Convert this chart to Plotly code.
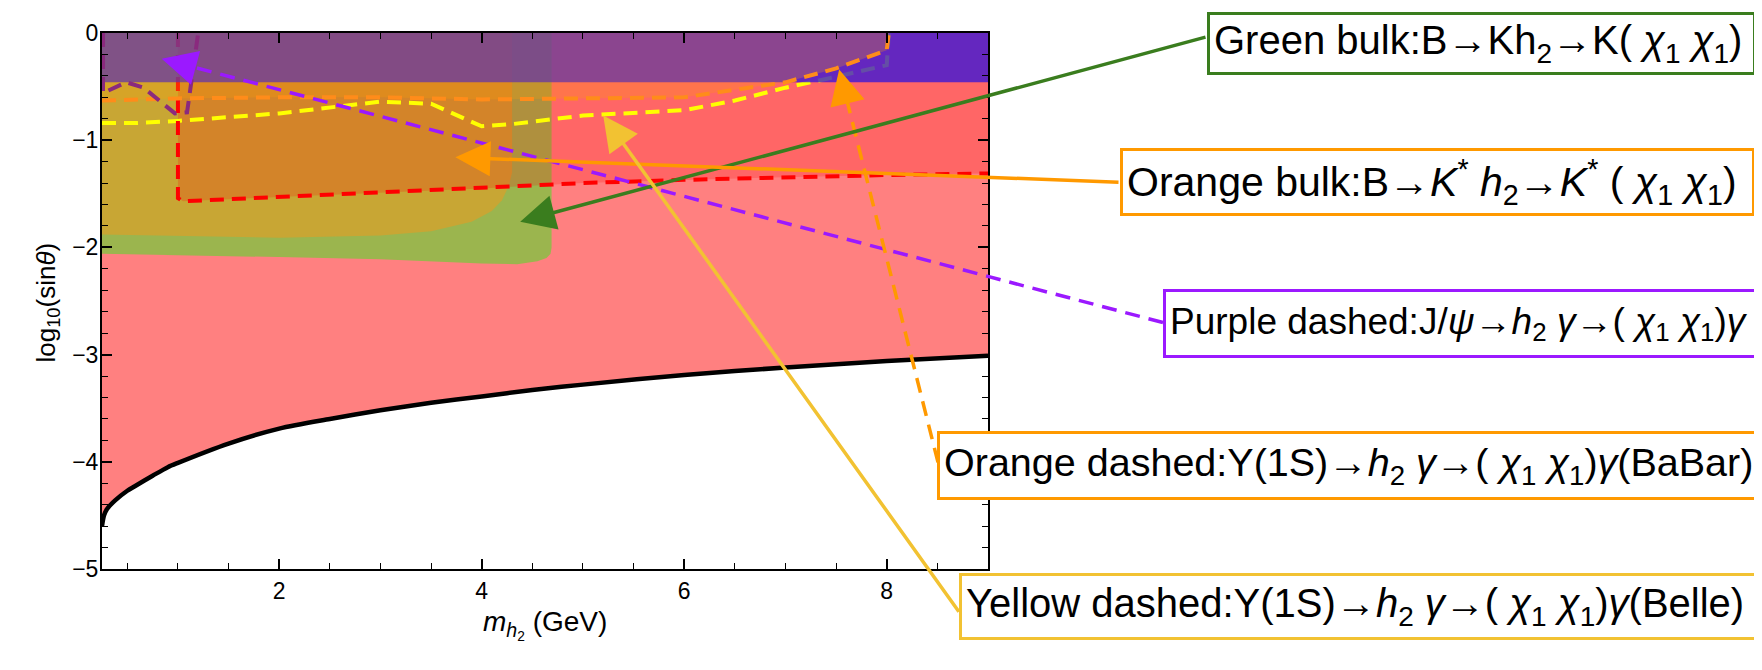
import math
import plotly.graph_objects as go

# ---------------- data ----------------
X_RANGE = [0.25, 9.0]
Y_RANGE = [-5.0, 0.0]

# lower theoretical bound (black solid curve)
bound_x = [0.25, 0.27, 0.3, 0.38, 0.5, 0.57, 0.75, 0.9, 1.0, 1.5, 2.0, 2.5, 3.0, 3.5, 4.0, 4.5, 5.0, 6.0, 7.0, 8.0, 9.0]
bound_y = [-4.6, -4.5, -4.44, -4.36, -4.27, -4.23, -4.13, -4.05, -4.01, -3.83, -3.69, -3.6, -3.52, -3.45, -3.39, -3.33, -3.28, -3.19, -3.12, -3.06, -3.01]

# green bulk region (B -> K h2)
green_x = [0.25, 1.0, 2.0, 3.0, 3.5, 4.0, 4.35, 4.55, 4.64, 4.68, 4.69, 4.69, 0.25]
green_y = [-2.06, -2.07, -2.09, -2.11, -2.13, -2.15, -2.157, -2.13, -2.1, -2.06, -2.0, 0.0, 0.0]

# mustard region
mustard_x = [0.25, 1.0, 2.0, 3.0, 3.5, 3.9, 4.1, 4.2, 4.27, 4.3, 4.3, 0.25]
mustard_y = [-1.88, -1.89, -1.91, -1.89, -1.85, -1.76, -1.66, -1.56, -1.42, -1.3, 0.0, 0.0]

# red dashed (B -> K* h2)
red_x = [1.0, 1.0, 1.05, 2.0, 3.0, 4.0, 5.0, 6.0, 7.0, 8.0, 9.0]
red_y = [0.0, -1.54, -1.57, -1.53, -1.49, -1.45, -1.40, -1.37, -1.345, -1.325, -1.31]

# orange dashed (BaBar)
babar_x = [0.25, 1.0, 2.0, 3.0, 4.0, 5.0, 6.0, 6.5, 7.0, 7.5, 8.0, 8.02]
babar_y = [-0.63, -0.61, -0.6, -0.6, -0.62, -0.61, -0.6, -0.53, -0.46, -0.33, -0.16, 0.0]

# yellow dashed (Belle)
belle_x = [0.25, 0.6, 1.0, 2.0, 3.0, 3.5, 4.0, 4.3, 5.0, 6.0, 6.5, 7.0, 7.3, 8.0, 8.02]
belle_y = [-0.84, -0.84, -0.82, -0.75, -0.64, -0.66, -0.87, -0.85, -0.77, -0.72, -0.63, -0.51, -0.45, -0.3, 0.0]

# purple dashed (J/psi)
jpsi_x = [0.26, 0.26, 0.49, 0.66, 0.97, 1.09, 1.2]
jpsi_y = [0.0, -0.56, -0.46, -0.51, -0.75, -0.74, 0.0]

# top band
band_x = [0.25, 9.0, 9.0, 0.25]
band_y = [-0.46, -0.46, 0.0, 0.0]

X_TICKS = [2, 4, 6, 8]
Y_TICKS = [0, -1, -2, -3, -4, -5]

# ---------------- layout geometry (page pixels) ----------------
OFF = 8                      # default body margin of the html page
W, H = 1762 - OFF, 670 - OFF
PL, PT, PW, PH = 102 - OFF, 21 - OFF, 886, 548


def d2px(x, y):
    X = PL + OFF + (x - X_RANGE[0]) / (X_RANGE[1] - X_RANGE[0]) * PW
    Y = PT + OFF + (Y_RANGE[1] - y) / (Y_RANGE[1] - Y_RANGE[0]) * PH
    return X, Y


def px2paper(X, Y):
    X -= OFF
    Y -= OFF
    return (X - PL) / PW, (PT + PH - Y) / PH


fig = go.Figure()


def region(xs, ys, color):
    fig.add_trace(go.Scatter(x=xs, y=ys, fill="toself", fillcolor=color, mode="lines",
                             line=dict(width=0), hoverinfo="skip", showlegend=False))


def dline(xs, ys, color, width=4, dash="14px,8px"):
    fig.add_trace(go.Scatter(x=xs, y=ys, mode="lines", line=dict(color=color, width=width, dash=dash),
                             hoverinfo="skip", showlegend=False))


region(bound_x + [X_RANGE[1], X_RANGE[0]], bound_y + [0.0, 0.0], "#ff8080")
region(green_x, green_y, "#9bb54e")
region(mustard_x, mustard_y, "#c8a634")
region(red_x[1:] + [9.0, 1.0], red_y[1:] + [0.0, 0.0], "rgba(255,0,0,0.2)")
dline(belle_x, belle_y, "#ffff00")
dline(red_x, red_y, "#ff0000")
region(band_x, band_y, "rgba(48,19,222,0.75)")
region(babar_x + [0.25], babar_y + [0.0], "rgba(255,160,0,0.25)")
dline(babar_x, babar_y, "#ff8c1a")
dline(jpsi_x, jpsi_y, "#8a2a7e")
fig.add_trace(go.Scatter(x=bound_x, y=bound_y, mode="lines",
                         line=dict(color="black", width=4.5, shape="spline", smoothing=0.8),
                         hoverinfo="skip", showlegend=False))

FONT = "Liberation Sans"
annotations = []
shapes = []

# ---------------- labelled boxes ----------------
CHI = "<i>χ</i><sub>1</sub>"
boxes = [
    dict(text="Green bulk:B→Kh<sub>2</sub>→K( " + CHI + " " + CHI + ")", color="#3a7d1e",
         box=(1207, 0, 1756, 63), size=40),
    dict(text="Orange bulk:B→<i>K</i><sup>*</sup> <i>h</i><sub>2</sub>→<i>K</i><sup>*</sup> ( " + CHI + " " + CHI + ")",
         color="#ff9900", box=(1120, 139, 1755, 207), size=41),
    dict(text="Purple dashed:J/<i>ψ</i>→<i>h</i><sub>2</sub> <i>γ</i>→( " + CHI + " " + CHI + ")<i>γ</i>",
         color="#9b19ff", box=(1163, 283, 1800, 352), size=37),
    dict(text="Orange dashed:Υ(1S)→<i>h</i><sub>2</sub> <i>γ</i>→( " + CHI + " " + CHI + ")<i>γ</i>(BaBar)",
         color="#ff9900", box=(937, 428, 1800, 497), size=39.5),
    dict(text="Yellow dashed:Υ(1S)→<i>h</i><sub>2</sub> <i>γ</i>→( " + CHI + " " + CHI + ")<i>γ</i>(Belle)",
         color="#f2c232", box=(959, 573, 1760, 640), size=40),
]
BW = 3
PAD = 4
for b in boxes:
    l, t, r, btm = b["box"]
    x, y = px2paper(l, t)
    annotations.append(dict(
        text=b["text"], xref="paper", yref="paper", x=x, y=y, xanchor="left", yanchor="top",
        showarrow=False, align="left", valign="middle",
        width=r - l - 2 * PAD - 2 * BW, height=btm - t - 2 * PAD - 2 * BW,
        borderpad=PAD, borderwidth=BW, bordercolor=b["color"], bgcolor="white",
        font=dict(family=FONT, size=b["size"], color="black")))

# ---------------- arrows ----------------
arrows = [
    ((1207, 29), (4.38, -1.76), "#3a7d1e", False),
    ((1120, 173), (3.74, -1.16), "#ff9900", False),
    ((1163, 317), (0.84, -0.24), "#9b19ff", True),
    ((938, 460), (7.53, -0.34), "#ff9900", True),
    ((960, 603), (5.2, -0.77), "#f2c232", False),
]
for (tx, ty), (hx, hy), col, dashed in arrows:
    HX, HY = d2px(hx, hy)
    if not dashed:
        annotations.append(dict(x=hx, y=hy, xref="x", yref="y", ax=tx - HX, ay=ty - HY,
                                axref="pixel", ayref="pixel", text="", showarrow=True,
                                arrowhead=2, arrowsize=2.0, arrowwidth=3.5, arrowcolor=col, standoff=0))
    else:
        L = math.hypot(tx - HX, ty - HY)
        ux, uy = (tx - HX) / L, (ty - HY) / L
        sx, sy = HX + ux * 18, HY + uy * 18
        p0 = px2paper(tx, ty)
        p1 = px2paper(sx, sy)
        shapes.append(dict(type="line", xref="paper", yref="paper", x0=p0[0], y0=p0[1], x1=p1[0], y1=p1[1],
                           line=dict(color=col, width=3.5, dash="15px,9px"), layer="above"))
        annotations.append(dict(x=hx, y=hy, xref="x", yref="y", ax=ux * 28, ay=uy * 28,
                                axref="pixel", ayref="pixel", text="", showarrow=True,
                                arrowhead=2, arrowsize=2.0, arrowwidth=3.5, arrowcolor=col, standoff=0))

# axis titles
tx_, ty_ = px2paper(545, 648)
annotations.append(dict(text="<i>m</i><sub><i>h</i><sub>2</sub></sub> (GeV)", xref="paper", yref="paper",
                        x=tx_, y=ty_, showarrow=False, font=dict(family=FONT, size=28, color="black")))
tx_, ty_ = px2paper(29, 297)
annotations.append(dict(text="log<sub>10</sub>(sin<i>θ</i>)", xref="paper", yref="paper", x=tx_, y=ty_,
                        showarrow=False, textangle=-90, font=dict(family=FONT, size=26, color="black")))

axis_common = dict(showgrid=False, zeroline=False, showline=True, linecolor="black", linewidth=2,
                   mirror="ticks", ticks="inside", ticklen=10, tickwidth=1.5, tickcolor="black",
                   tickfont=dict(family=FONT, size=23, color="black"))
fig.update_layout(
    width=W, height=H, margin=dict(l=PL, r=W - PL - PW, t=PT, b=H - PT - PH),
    paper_bgcolor="white", plot_bgcolor="white", showlegend=False,
    xaxis=dict(range=X_RANGE, tickvals=X_TICKS, ticktext=[str(v) for v in X_TICKS],
               minor=dict(dtick=0.5, tick0=0, ticks="inside", ticklen=6, tickcolor="black", tickwidth=1.2),
               **axis_common),
    yaxis=dict(range=Y_RANGE, tickvals=Y_TICKS, ticktext=[("−" if v < 0 else "") + str(abs(v)) for v in Y_TICKS],
               minor=dict(dtick=0.2, tick0=0, ticks="inside", ticklen=6, tickcolor="black", tickwidth=1.2),
               ticklabelstandoff=-3,
               **axis_common),
    annotations=annotations, shapes=shapes,
)

fig.write_html("out.html")
